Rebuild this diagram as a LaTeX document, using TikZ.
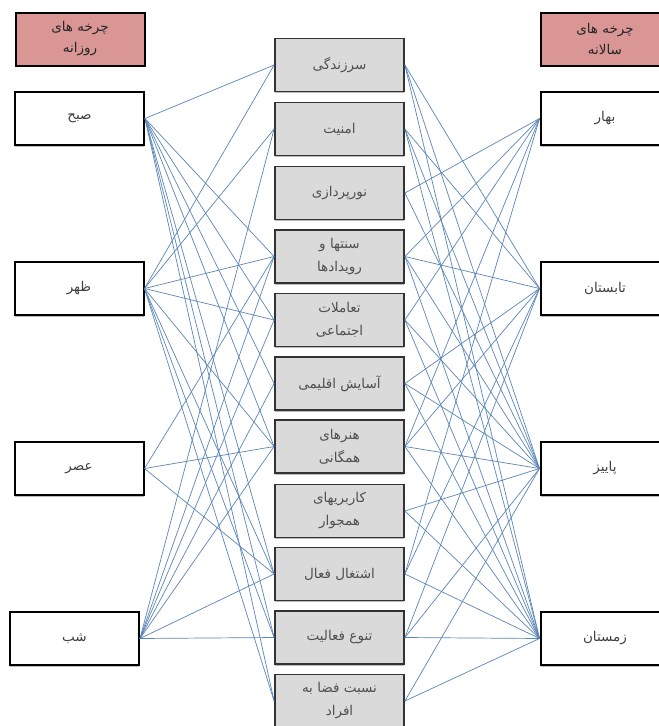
\documentclass[tikz,border=0pt]{standalone}
\usepackage{fontspec}
\newfontfamily\arabicfont[Script=Arabic]{DejaVu Sans}
\TeXXeTstate=1
\usetikzlibrary{shadows}
\definecolor{conncol}{HTML}{5A86B8}
\definecolor{headfill}{HTML}{D99694}
\definecolor{midfill}{HTML}{DADADA}
\definecolor{midtext}{HTML}{505050}
\tikzset{
  conn/.style={draw=conncol, line width=0.7pt},
  sidebox/.style={draw=black, line width=2pt, fill=white, minimum width=129pt, minimum height=53pt, align=center, inner sep=1pt,
     font=\arabicfont\fontsize{13.5}{21}\selectfont, text=black!75,
     drop shadow={shadow xshift=0pt, shadow yshift=-1.5pt, fill=black!45, opacity=0.6}},
  headbox/.style={sidebox, fill=headfill, text=black!85},
  midbox/.style={draw=black!80, line width=1.8pt, fill=midfill, minimum width=129pt, minimum height=53pt, align=center, inner sep=1pt,
     font=\arabicfont\fontsize{13.5}{23}\selectfont, text=midtext,
     drop shadow={shadow xshift=0pt, shadow yshift=-1.5pt, fill=black!45, opacity=0.6}}
}
\newcommand{\rtl}[1]{\beginR #1\endR}
\begin{document}
\begin{tikzpicture}[x=1pt,y=-1pt]
\useasboundingbox[fill=white] (0,0) rectangle (659,726);
% headers
\node[headbox] (hl) at (80,39) {\rtl{چرخه های}\\\rtl{روزانه}};
\node[headbox] (hr) at (605,39) {\rtl{چرخه های}\\\rtl{سالانه}};
% left
\node[sidebox] (l1) at (79.5,118.5) {\rtl{صبح}};
\node[sidebox] (l2) at (79,288.5) {\rtl{ظهر}};
\node[sidebox] (l3) at (79,468.5) {\rtl{عصر}};
\node[sidebox] (l4) at (74.5,638.5) {\rtl{شب}};
% right
\node[sidebox] (r1) at (605,118.5) {\rtl{بهار}};
\node[sidebox] (r2) at (605,288.5) {\rtl{تابستان}};
\node[sidebox] (r3) at (605,468.5) {\rtl{پاییز}};
\node[sidebox] (r4) at (605,638.5) {\rtl{زمستان}};
% middle
\node[midbox] (m1) at (339.5,65) {\rtl{سرزندگی}};
\node[midbox] (m2) at (339.5,129) {\rtl{امنیت}};
\node[midbox] (m3) at (339.5,193) {\rtl{نورپردازی}};
\node[midbox] (m4) at (339.5,256.5) {\rtl{سنتها و}\\\rtl{رویدادها}};
\node[midbox] (m5) at (339.5,320) {\rtl{تعاملات}\\\rtl{اجتماعی}};
\node[midbox] (m6) at (339.5,383.5) {\rtl{آسایش اقلیمی}};
\node[midbox] (m7) at (339.5,446.5) {\rtl{هنرهای}\\\rtl{همگانی}};
\node[midbox] (m8) at (339.5,511) {\rtl{کاربریهای}\\\rtl{همجوار}};
\node[midbox] (m9) at (339.5,574) {\rtl{اشتغال فعال}};
\node[midbox] (m10) at (339.5,637.5) {\rtl{تنوع فعالیت}};
\node[midbox] (m11) at (339.5,701) {\rtl{نسبت فضا به}\\\rtl{افراد}};
% left connectors
\foreach \m in {1,4,5,6,7,9,10,11} {\draw[conn] (l1.east) -- (m\m.west);}
\foreach \m in {1,2,4,5,7,9,10,11} {\draw[conn] (l2.east) -- (m\m.west);}
\foreach \m in {4,7,9} {\draw[conn] (l3.east) -- (m\m.west);}
\foreach \m in {2,4,5,6,7,9,10} {\draw[conn] (l4.east) -- (m\m.west);}
% right connectors
\foreach \r in {2,3,4} {\draw[conn] (m1.east) -- (r\r.west);}
\foreach \r in {2,3,4} {\draw[conn] (m2.east) -- (r\r.west);}
\foreach \r in {1,3} {\draw[conn] (m3.east) -- (r\r.west);}
\foreach \r in {1,2,3,4} {\draw[conn] (m4.east) -- (r\r.west);}
\foreach \r in {1,3,4} {\draw[conn] (m5.east) -- (r\r.west);}
\foreach \r in {2,3,4} {\draw[conn] (m6.east) -- (r\r.west);}
\foreach \r in {1,2,3,4} {\draw[conn] (m7.east) -- (r\r.west);}
\foreach \r in {3,4} {\draw[conn] (m8.east) -- (r\r.west);}
\foreach \r in {1,2,4} {\draw[conn] (m9.east) -- (r\r.west);}
\foreach \r in {2,3,4} {\draw[conn] (m10.east) -- (r\r.west);}
\foreach \r in {3,4} {\draw[conn] (m11.east) -- (r\r.west);}
\end{tikzpicture}
\end{document}
